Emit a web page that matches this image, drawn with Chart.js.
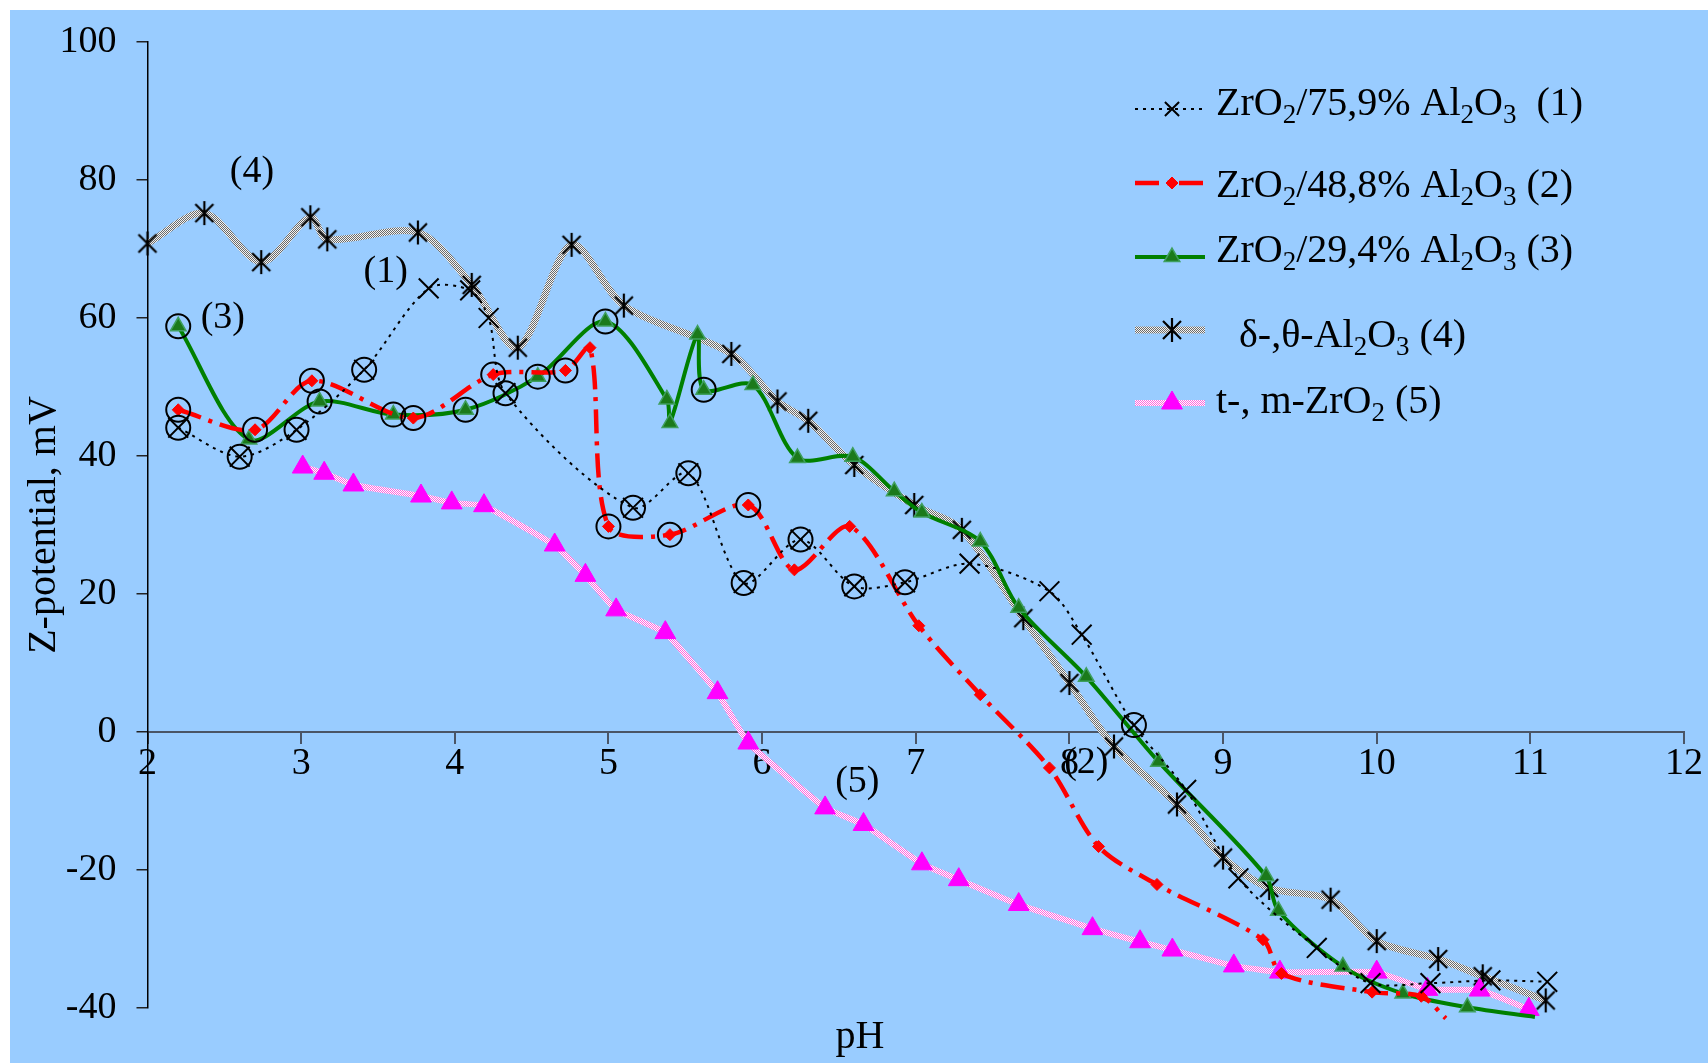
<!DOCTYPE html>
<html>
<head>
  <title>Z-potential vs pH</title>
  <script src="https://cdn.jsdelivr.net/npm/chart.js"></script>
  <style>
    body {
      margin: 0;
      background: #fff;
    }
    #wrap {
      position: absolute;
      left: 10px;
      top: 10px;
      width: 1698px;
      height: 1053px;
      background: #99ccff;
    }
  </style>
</head>
<body>
  <div id="wrap"><canvas id="zeta" width="1698" height="1053"></canvas></div>

  <script>
    // (1) ZrO2/75,9% Al2O3
    const ph1 = [2.20, 2.60, 2.97, 3.41, 3.83, 4.10, 4.22, 4.33, 5.16, 5.52, 5.88, 6.25, 6.60, 6.93, 7.35, 7.87, 8.08, 8.42, 8.76, 9.10, 9.61, 9.96, 10.35, 10.74, 11.11];
    const zp1 = [44.1, 39.9, 43.8, 52.5, 64.3, 64.0, 60.0, 49.1, 32.5, 37.5, 21.6, 27.9, 21.1, 21.7, 24.4, 20.4, 14.1, 1.0, -8.4, -21.2, -31.3, -36.4, -36.4, -36.0, -36.2];
    const ring1 = [0, 1, 2, 3, 7, 8, 9, 10, 11, 12, 13, 17];

    // (2) ZrO2/48,8% Al2O3
    const ph2 = [2.20, 2.70, 3.07, 3.73, 4.25, 4.72, 4.88, 5.00, 5.40, 5.91, 6.21, 6.57, 7.02, 7.42, 7.87, 8.19, 8.57, 9.26, 9.38, 9.97, 10.29, 10.45];
    const zp2 = [46.7, 43.8, 50.9, 45.5, 51.8, 52.4, 55.7, 29.8, 28.6, 32.9, 23.5, 29.8, 15.4, 5.4, -5.2, -16.6, -22.1, -30.1, -35.0, -37.7, -38.3, -41.5];
    const ring2 = [0, 1, 2, 3, 4, 5, 7, 8, 9];

    // (3) ZrO2/29,4% Al2O3
    const ph3 = [2.20, 2.66, 3.12, 3.60, 4.07, 4.54, 4.98, 5.38, 5.40, 5.58, 5.62, 5.94, 6.23, 6.59, 6.86, 7.04, 7.42, 7.67, 8.11, 8.58, 9.28, 9.36, 9.78, 10.17, 10.59, 11.03];
    const zp3 = [58.8, 42.4, 47.9, 46.0, 46.7, 51.5, 59.5, 48.2, 44.8, 57.6, 49.6, 50.3, 39.7, 39.9, 34.9, 31.8, 27.6, 18.0, 8.0, -4.3, -20.9, -25.9, -34.0, -37.9, -39.9, -41.3];
    const ring3 = [0, 2, 3, 4, 5, 6, 10];

    // (4) delta-, theta-Al2O3
    const ph4 = [2.00, 2.37, 2.74, 3.06, 3.17, 3.76, 4.11, 4.41, 4.76, 5.10, 5.80, 6.10, 6.30, 6.60, 6.99, 7.30, 7.70, 8.00, 8.29, 8.70, 9.00, 9.30, 9.70, 10.00, 10.40, 10.69, 11.10];
    const zp4 = [70.8, 75.2, 68.1, 74.6, 71.4, 72.4, 64.8, 55.7, 70.6, 61.8, 54.8, 47.9, 45.1, 38.7, 32.9, 29.3, 16.5, 7.1, -2.1, -10.5, -18.2, -22.6, -24.3, -30.3, -32.9, -35.4, -38.9];

    // (5) t-, m-ZrO2
    const ph5 = [3.01, 3.15, 3.34, 3.78, 3.98, 4.19, 4.65, 4.85, 5.05, 5.37, 5.71, 5.91, 6.41, 6.66, 7.04, 7.28, 7.67, 8.15, 8.46, 8.67, 9.07, 9.37, 10.00, 10.33, 10.67, 10.99];
    const zp5 = [38.4, 37.5, 35.8, 34.2, 33.2, 32.8, 27.1, 22.7, 17.7, 14.4, 5.7, -1.6, -11.0, -13.4, -19.1, -21.4, -25.0, -28.5, -30.4, -31.6, -33.9, -34.8, -34.8, -37.3, -37.4, -40.2];

    const xTickVals = [2, 3, 4, 5, 6, 7, 8, 9, 10, 11, 12];
    const yTickVals = [-40, -20, 0, 20, 40, 60, 80, 100];

    // curve numbers written on the plot
    const noteText = ['(4)', '(1)', '(3)', '(2)', '(5)'];
    const notePh = [2.68, 3.55, 2.49, 8.11, 6.62];
    const noteZp = [81.1, 66.6, 60.0, -4.5, -7.3];

    // legend entries, [text, subscript?]
    const legendNames = [
      [['ZrO', 0], ['2', 1], ['/75,9% Al', 0], ['2', 1], ['O', 0], ['3', 1], ['  (1)', 0]],
      [['ZrO', 0], ['2', 1], ['/48,8% Al', 0], ['2', 1], ['O', 0], ['3', 1], [' (2)', 0]],
      [['ZrO', 0], ['2', 1], ['/29,4% Al', 0], ['2', 1], ['O', 0], ['3', 1], [' (3)', 0]],
      [['\u03b4-,\u03b8-Al', 0], ['2', 1], ['O', 0], ['3', 1], [' (4)', 0]],
      [['t-, m-ZrO', 0], ['2', 1], [' (5)', 0]]
    ];

    const FONT = '"Liberation Serif", "Times New Roman", serif';

    function pts(xs, ys) {
      return xs.map((x, i) => ({ x: x, y: ys[i] }));
    }

    function checker(c1, c2) {
      const c = document.createElement('canvas');
      c.width = 2; c.height = 2;
      const g = c.getContext('2d');
      g.fillStyle = c1; g.fillRect(0, 0, 2, 2);
      g.fillStyle = c2; g.fillRect(0, 0, 1, 1); g.fillRect(1, 1, 1, 1);
      return g.createPattern(c, 'repeat');
    }

    // asterisk marker: X with a vertical bar
    function asterisk() {
      const c = document.createElement('canvas');
      c.width = 24; c.height = 26;
      const g = c.getContext('2d');
      g.strokeStyle = '#000';
      g.lineWidth = 2.2;
      g.beginPath();
      g.moveTo(3, 4); g.lineTo(21, 22);
      g.moveTo(21, 4); g.lineTo(3, 22);
      g.moveTo(12, 1); g.lineTo(12, 25);
      g.stroke();
      return c;
    }

    const greyBand = checker('#f4f4f4', '#6a6a6a');
    const pinkBand = checker('#ffffff', '#ff66dd');
    const star = asterisk();

    const rings = ring1.map(i => ({ x: ph1[i], y: zp1[i] }))
      .concat(ring2.map(i => ({ x: ph2[i], y: zp2[i] })))
      .concat(ring3.map(i => ({ x: ph3[i], y: zp3[i] })));

    const datasets = [
      {
        label: 'rings', data: rings, showLine: false,
        pointStyle: 'circle', pointRadius: 12, borderWidth: 2,
        borderColor: '#000', backgroundColor: 'rgba(0,0,0,0)'
      },
      {
        label: 'ZrO2/75,9% Al2O3 (1)', data: pts(ph1, zp1), showLine: true,
        borderColor: '#000', borderWidth: 2, borderDash: [3, 5], tension: 0.3,
        pointStyle: 'crossRot', pointRadius: 14, pointBorderWidth: 2,
        pointBorderColor: '#000', pointBackgroundColor: '#000'
      },
      {
        label: 'ZrO2/48,8% Al2O3 (2)', data: pts(ph2, zp2), showLine: true,
        borderColor: '#ff0000', borderWidth: 4.5, borderDash: [24, 8, 4, 8], tension: 0.3,
        pointStyle: 'rectRot', pointBorderWidth: 1,
        pointRadius: ctx => ctx.dataIndex === zp2.length - 1 ? 0 : 6,
        pointBorderColor: '#ff0000', pointBackgroundColor: '#ff0000'
      },
      {
        label: 'ZrO2/29,4% Al2O3 (3)', data: pts(ph3, zp3), showLine: true,
        borderColor: '#008000', borderWidth: 4, tension: 0.3,
        pointStyle: 'triangle', pointBorderWidth: 1.5,
        pointRadius: ctx => ctx.dataIndex === zp3.length - 1 ? 0 : 9,
        pointBorderColor: '#3f9f5f', pointBackgroundColor: '#1b7a1b'
      },
      {
        label: 't-, m-ZrO2 (5)', data: pts(ph5, zp5), showLine: true,
        borderColor: pinkBand, borderWidth: 6, tension: 0.1,
        pointStyle: 'triangle', pointRadius: 12, pointBorderWidth: 1,
        pointBorderColor: '#ff00ff', pointBackgroundColor: '#ff00ff'
      },
      {
        label: 'δ-,θ-Al2O3 (4)', data: pts(ph4, zp4), showLine: true,
        borderColor: greyBand, borderWidth: 7, tension: 0.3,
        pointStyle: star, pointRadius: 12
      }
    ];

    function drawRich(ctx, parts, x, y) {
      parts.forEach(([t, sub]) => {
        ctx.font = (sub ? '27px ' : '40px ') + FONT;
        ctx.fillText(t, x, y + (sub ? 8 : 0));
        x += ctx.measureText(t).width;
      });
    }

    const legendRows = [1, 2, 3, 5, 4];
    const legendLineY = [99, 173, 247, 320, 393];
    const legendTextY = [105, 187, 252, 337, 403];
    const legendTextX = [1206, 1206, 1206, 1229, 1206];
    const legendMarkR = [10, 6, 9, 12, 12];

    const labelPlugin = {
      id: 'zetaLabels',
      afterDraw(chart) {
        const ctx = chart.ctx;
        const xs = chart.scales.x, ys = chart.scales.y;
        ctx.save();
        ctx.fillStyle = '#000';
        ctx.textAlign = 'center';
        ctx.textBaseline = 'middle';
        ctx.font = '38px ' + FONT;
        noteText.forEach((t, i) => {
          ctx.fillText(t, xs.getPixelForValue(notePh[i]), ys.getPixelForValue(noteZp[i]));
        });
        ctx.font = '40px ' + FONT;
        ctx.fillText('pH', 850, 1027);

        // legend
        ctx.textAlign = 'left';
        ctx.textBaseline = 'alphabetic';
        legendRows.forEach((di, r) => {
          const ds = chart.data.datasets[di];
          const y = legendLineY[r];
          ctx.save();
          ctx.strokeStyle = ds.borderColor;
          ctx.lineWidth = ds.borderWidth;
          ctx.setLineDash(ds.borderDash || []);
          ctx.beginPath();
          ctx.moveTo(1125, y);
          ctx.lineTo(1195, y);
          ctx.stroke();
          ctx.setLineDash([]);
          ctx.fillStyle = ds.pointBackgroundColor || '#000';
          ctx.strokeStyle = ds.pointBorderColor || '#000';
          ctx.lineWidth = ds.pointBorderWidth || 1;
          Chart.helpers.drawPoint(ctx, { pointStyle: ds.pointStyle, rotation: 0, radius: legendMarkR[r], borderWidth: ds.pointBorderWidth || 1 }, 1162, y);
          ctx.restore();
          ctx.fillStyle = '#000';
          drawRich(ctx, legendNames[r], legendTextX[r], legendTextY[r]);
        });
        ctx.restore();
      }
    };

    new Chart(document.getElementById('zeta'), {
      type: 'scatter',
      data: { datasets: datasets },
      plugins: [labelPlugin],
      options: {
        responsive: false,
        animation: false,
        devicePixelRatio: 1,
        clip: false,
        layout: { padding: { left: 0, top: 32, right: 24, bottom: 55 } },
        plugins: { legend: { display: false }, tooltip: { enabled: false } },
        elements: { line: { fill: false } },
        scales: {
          x: {
            type: 'linear',
            position: { y: 0 },
            min: 2, max: 12,
            afterBuildTicks: s => { s.ticks = xTickVals.map(v => ({ value: v })); },
            ticks: { color: '#000', font: { family: FONT, size: 38 }, padding: -2, maxRotation: 0, autoSkip: false },
            grid: { drawOnChartArea: false, tickLength: 11, color: '#4a5566', lineWidth: 2 },
            border: { color: '#4a5566', width: 2 }
          },
          y: {
            type: 'linear',
            position: 'left',
            min: -40, max: 100,
            afterBuildTicks: s => { s.ticks = yTickVals.map(v => ({ value: v })); },
            afterFit: s => { s.width = 137.5; s.paddingTop = 0; s.paddingBottom = 0; },
            ticks: { color: '#000', font: { family: FONT, size: 38 }, padding: 20 },
            grid: { drawOnChartArea: false, tickLength: 11, color: '#222', lineWidth: 1.5 },
            border: { color: '#000', width: 1.5 },
            title: { display: true, text: 'Z-potential, mV', color: '#000', font: { family: FONT, size: 40 }, padding: { top: 10, bottom: 0 } }
          }
        }
      }
    });
  </script>
</body>
</html>
